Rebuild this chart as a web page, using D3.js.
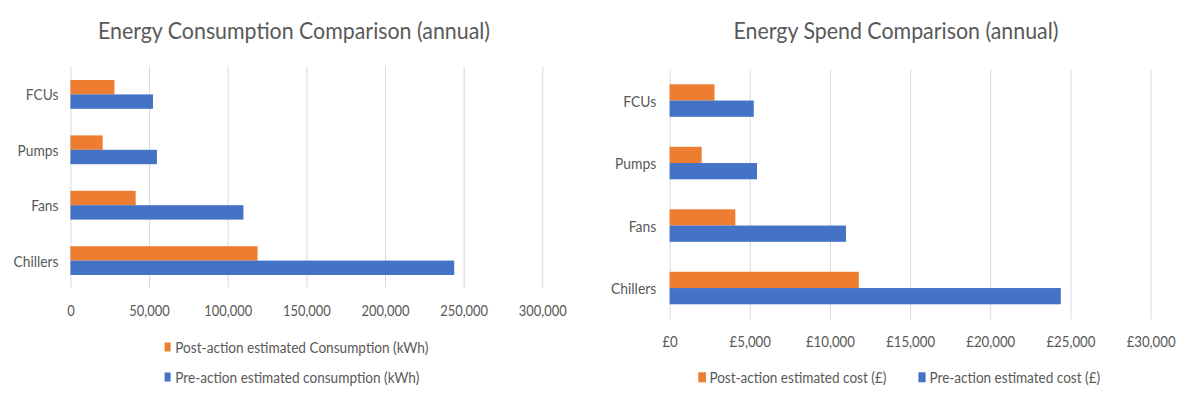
<!DOCTYPE html>
<html><head><meta charset="utf-8">
<script src="https://cdn.jsdelivr.net/npm/d3@7"></script>
<style>body{margin:0;background:#fff;} svg{display:block;} text{font-family:Lato,"Open Sans",sans-serif;fill:#595959;}</style>
</head><body>
<svg id="chart" width="1190" height="398"></svg>
<script>
const categories = ["FCUs","Pumps","Fans","Chillers"];
const consumptionPost = [28000, 20500, 41500, 119000];
const consumptionPre = [52500, 55000, 110000, 244000];
const costPost = [2800, 2000, 4100, 11800];
const costPre = [5250, 5450, 11000, 24400];
const consumptionTicks = [0,50000,100000,150000,200000,250000,300000];
const costTicks = [0,5000,10000,15000,20000,25000,30000];
const seriesKeys = ["post","pre"];
const colors = {post:"#ED7D31", pre:"#4472C4"};

const svg = d3.select("#chart");

function squash(sel, k){
  sel.each(function(){
    const w = this.getComputedTextLength();
    this.setAttribute("textLength", w*k);
    this.setAttribute("lengthAdjust","spacingAndGlyphs");
  });
}
function factorFor(sel, sampleText, target){
  let k = 1;
  sel.each(function(){ if (this.textContent === sampleText) k = target/this.getComputedTextLength(); });
  return k;
}

function drawChart(cfg){
  const g = svg.append("g");
  const x = d3.scaleLinear().domain([0, cfg.ticks[cfg.ticks.length-1]]).range([cfg.x0, cfg.x1]);
  const y = d3.scaleBand().domain(categories).range([cfg.top, cfg.bottom]).paddingInner(0.48).paddingOuter(0.24);
  const ys = d3.scaleBand().domain(seriesKeys).range([0, y.bandwidth()]);

  // gridlines
  const grid = g.append("g").attr("transform", `translate(0,${cfg.bottom})`)
    .call(d3.axisBottom(x).tickValues(cfg.ticks).tickSize(-(cfg.bottom-cfg.top)).tickFormat(""));
  grid.select(".domain").remove();
  grid.selectAll("line").attr("stroke","#D9D9D9").attr("stroke-width",1);

  // tick labels
  const xa = g.append("g").attr("transform", `translate(0,${cfg.tickY})`)
    .call(d3.axisBottom(x).tickValues(cfg.ticks).tickSize(0).tickPadding(0).tickFormat(cfg.fmt));
  xa.select(".domain").remove();
  const xt = xa.selectAll("text").attr("dy", null).attr("dominant-baseline","central")
    .style("font-size","16px").attr("fill","#595959");
  squash(xt, factorFor(xt, cfg.sampleTick, cfg.sampleTickW));

  // category labels
  const ya = g.append("g").attr("transform", `translate(${cfg.x0},0)`)
    .call(d3.axisLeft(y).tickSize(0).tickPadding(cfg.catPad));
  ya.select(".domain").remove();
  const yt = ya.selectAll("text").attr("dy", null).attr("dominant-baseline","central")
    .style("font-size","15.5px").attr("fill","#595959");
  squash(yt, factorFor(yt, "Chillers", cfg.chillersW));

  // bars
  const rows = categories.map((c,i)=>({cat:c, post:cfg.post[i], pre:cfg.pre[i]}));
  const grp = g.selectAll("g.bar").data(rows).join("g").attr("class","bar")
    .attr("transform", d=>`translate(0,${y(d.cat)})`);
  grp.selectAll("rect").data(d=>seriesKeys.map(k=>({k, v:d[k]}))).join("rect")
    .attr("x", x(0)).attr("y", d=>ys(d.k)).attr("height", ys.bandwidth())
    .attr("width", d=>x(d.v)-x(0)).attr("fill", d=>colors[d.k]);

  // title
  const t = g.append("text").attr("x", cfg.titleX).attr("y", 30).attr("text-anchor","middle")
    .attr("dominant-baseline","central").style("font-size","23px").text(cfg.title);
  squash(t, cfg.titleW / t.node().getComputedTextLength());

  // legend
  const lg = g.selectAll("g.leg").data(cfg.legend).join("g").attr("class","leg");
  lg.append("rect").attr("x", d=>d.sx).attr("y", d=>d.y - d.sh/2).attr("width", d=>d.sw).attr("height", d=>d.sh)
    .attr("fill", d=>colors[d.k]);
  const lt = lg.append("text").attr("x", d=>d.tx).attr("y", d=>d.y).attr("dominant-baseline","central")
    .style("font-size","15.5px").text(d=>d.label);
  squash(lt, cfg.legendW / lt.filter((d,i)=>i===0).node().getComputedTextLength());
}

drawChart({
  title:"Energy Consumption Comparison (annual)", titleX:294, titleW:392,
  x0:70.4, x1:542.3, top:66.7, bottom:288.3, tickY:309.5,
  ticks:consumptionTicks, fmt:d3.format(","), sampleTick:"50,000", sampleTickW:40.4,
  catPad:12, chillersW:44.8, post:consumptionPost, pre:consumptionPre,
  legendW:253,
  legend:[
    {k:"post", label:"Post-action estimated Consumption (kWh)", sx:164.6, sw:6, sh:9, tx:175.3, y:347},
    {k:"pre", label:"Pre-action estimated consumption (kWh)", sx:164.6, sw:6, sh:9, tx:175.3, y:377}
  ]
});

drawChart({
  title:"Energy Spend Comparison (annual)", titleX:896, titleW:325,
  x0:669.6, x1:1150.6, top:69.3, bottom:319.3, tickY:340,
  ticks:costTicks, fmt:d=>"£"+d3.format(",")(d), sampleTick:"£5,000", sampleTickW:41.3,
  catPad:13.4, chillersW:45.2, post:costPost, pre:costPre,
  legendW:177,
  legend:[
    {k:"post", label:"Post-action estimated cost (£)", sx:698.3, sw:7.7, sh:10, tx:709.4, y:377.3},
    {k:"pre", label:"Pre-action estimated cost (£)", sx:918.4, sw:7.2, sh:10, tx:929.5, y:377.3}
  ]
});
</script>
</body></html>
